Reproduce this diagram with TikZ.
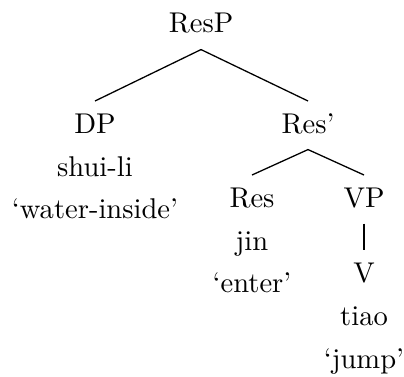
\documentclass[tikz,border=0pt]{standalone}
\usepackage{tikz}
\usetikzlibrary{positioning}
\tikzset{
    cat/.style={anchor=base, text height=7pt, text depth=1.6pt, inner sep=4pt},
    word/.style={anchor=base, inner sep=1pt},
    branch/.style={black, line width=0.45pt}
}
\begin{document}
\begin{tikzpicture}[x=0.35pt, y=-0.35pt]
    %% frame of the picture
    \useasboundingbox (0,0) rectangle (404,376);
    %% category labels
    \node[cat] (ResP)  at (201,33)  {ResP};
    \node[cat] (DP)    at (95,133)  {DP};
    \node[cat] (ResB)  at (308,133) {Res'};
    \node[cat] (Res)   at (252,207) {Res};
    \node[cat] (VP)    at (364,207) {VP};
    \node[cat] (V)     at (364,282) {V};
    %% words and glosses
    \node[word] (shuili) at (95,176)  {shui-li};
    \node[word] (water)  at (95,218)  {`water-inside'};
    \node[word] (jin)    at (252,250) {jin};
    \node[word] (enter)  at (252,292) {`enter'};
    \node[word] (tiao)   at (364,325) {tiao};
    \node[word] (jump)   at (364,368) {`jump'};
    %% branches
    \draw[branch] (ResP.south) -- (DP.north);
    \draw[branch] (ResP.south) -- (ResB.north);
    \draw[branch] (ResB.south) -- (Res.north);
    \draw[branch] (ResB.south) -- (VP.north);
    \draw[branch] (VP.south) -- (V.north);
\end{tikzpicture}
\end{document}
